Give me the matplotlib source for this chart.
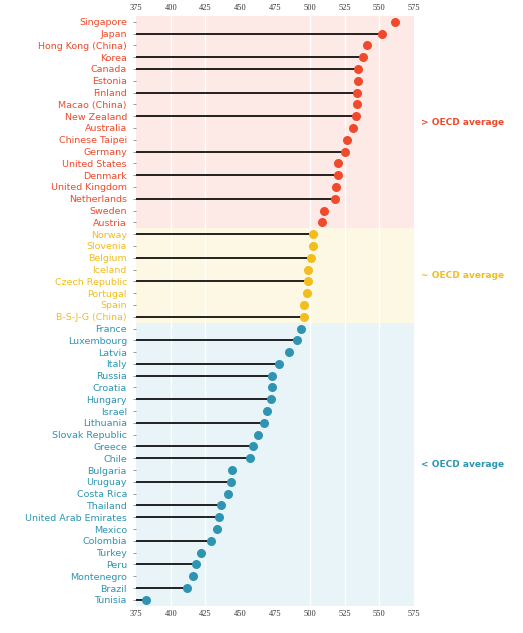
import matplotlib
matplotlib.use("Agg")
import matplotlib.pyplot as plt
import numpy as np

# PISA 2015 collaborative problem solving scores
countries = [
    "Singapore", "Japan", "Hong Kong (China)", "Korea", "Canada", "Estonia",
    "Finland", "Macao (China)", "New Zealand", "Australia", "Chinese Taipei",
    "Germany", "United States", "Denmark", "United Kingdom", "Netherlands",
    "Sweden", "Austria", "Norway", "Slovenia", "Belgium", "Iceland",
    "Czech Republic", "Portugal", "Spain", "B-S-J-G (China)", "France",
    "Luxembourg", "Latvia", "Italy", "Russia", "Croatia", "Hungary", "Israel",
    "Lithuania", "Slovak Republic", "Greece", "Chile", "Bulgaria", "Uruguay",
    "Costa Rica", "Thailand", "United Arab Emirates", "Mexico", "Colombia",
    "Turkey", "Peru", "Montenegro", "Brazil", "Tunisia",
]
scores = [
    561, 552, 541, 538, 535, 535, 534, 534, 533, 531, 527, 525, 520, 520, 519,
    518, 510, 509, 502, 502, 501, 499, 499, 498, 496, 496, 494, 491, 485, 478,
    473, 473, 472, 469, 467, 463, 459, 457, 444, 443, 441, 436, 435, 433, 429,
    422, 418, 416, 412, 382,
]
# group: 0 above, 1 near, 2 below OECD average
groups = [0] * 18 + [1] * 8 + [2] * 24
# rows where the stem is visible in the reference
stem = [
    0, 1, 0, 1, 1, 0, 1, 0, 1, 0, 0, 1, 0, 1, 0, 1, 0, 0,
    1, 0, 1, 0, 1, 0, 0, 1,
    0, 1, 0, 1, 1, 0, 1, 0, 1, 0, 1, 1, 0, 1, 0, 1, 1, 0, 1, 0, 1, 0, 1, 1,
]
group_labels = ["> OECD average", "~ OECD average", "< OECD average"]
x_ticks = [375, 400, 425, 450, 475, 500, 525, 550, 575]

dot_colors = ["#ef4a2b", "#f2bd1d", "#2e94b2"]
band_colors = ["#fde9e5", "#fdf8e3", "#e8f4f7"]

fig = plt.figure(figsize=(5.23, 6.33), dpi=100)
ax = fig.add_axes([0.26, 0.043, 0.5316, 0.932])

n = len(countries)
y = np.arange(n)

# background bands
groups_arr = np.array(groups)
for g in range(3):
    idx = y[groups_arr == g]
    ax.axhspan(idx.min() - 0.5, idx.max() + 0.5, color=band_colors[g], lw=0, zorder=0)
    ax.text(1.025, 1 - (idx.mean() + 0.5) / n, group_labels[g], transform=ax.transAxes,
            color=dot_colors[g], fontsize=6.5, va="center", ha="left",
            fontweight="bold")

for gx in [400, 425, 500, 525, 550]:
    ax.axvline(gx, color="white", lw=1.0, zorder=1)

for i in range(n):
    if stem[i]:
        ax.plot([375, scores[i]], [i, i], color="#111111", lw=1.3, zorder=2,
                solid_capstyle="butt")
    ax.plot(scores[i], i, "o", color=dot_colors[groups[i]], markersize=6.5,
            markeredgewidth=0, zorder=3)

ax.set_xlim(375, 575)
ax.set_ylim(n - 0.5, -0.5)
ax.set_xticks(x_ticks)
ax.set_xticklabels([str(t) for t in x_ticks], family="Liberation Serif", fontsize=6,
                   color="#333333")
ax.tick_params(axis="x", length=0, top=True, labeltop=True, pad=3)
ax.set_yticks(y)
ax.set_yticklabels(countries, fontsize=6.8)
for lab, g in zip(ax.get_yticklabels(), groups):
    lab.set_color(dot_colors[g])
ax.tick_params(axis="y", length=2.5, width=0.6, color="#888888", pad=4)
for s in ax.spines.values():
    s.set_visible(False)

fig.savefig("out.png", dpi=100, facecolor="white")
